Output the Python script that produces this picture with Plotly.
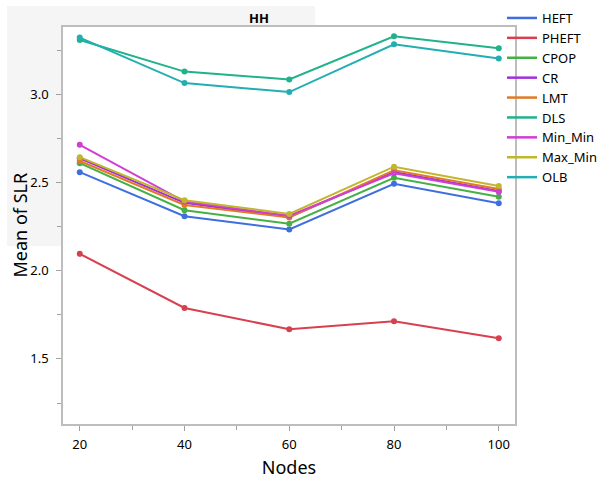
import plotly.graph_objects as go

nodes = [20, 40, 60, 80, 100]

series_names = ["HEFT", "PHEFT", "CPOP", "CR", "LMT", "DLS", "Min_Min", "Max_Min", "OLB"]

HEFT = [2.559, 2.309, 2.234, 2.493, 2.383]
PHEFT = [2.096, 1.789, 1.668, 1.713, 1.617]
CPOP = [2.610, 2.343, 2.267, 2.527, 2.419]
CR = [2.638, 2.385, 2.305, 2.560, 2.452]
LMT = [2.622, 2.373, 2.302, 2.570, 2.463]
DLS = [3.308, 3.129, 3.085, 3.329, 3.261]
Min_Min = [2.714, 2.392, 2.312, 2.553, 2.448]
Max_Min = [2.644, 2.400, 2.322, 2.590, 2.480]
OLB = [3.322, 3.064, 3.013, 3.284, 3.204]

values = [HEFT, PHEFT, CPOP, CR, LMT, DLS, Min_Min, Max_Min, OLB]

colors = ["#3F6FDF", "#D7404F", "#45B045", "#A12FE0", "#E07A26",
          "#20B28B", "#D03FD3", "#C2B62C", "#22AEB2"]

font_family = "Noto Sans, Open Sans, sans-serif"

fig = go.Figure()
for name, vals, col in zip(series_names, values, colors):
    fig.add_trace(go.Scatter(
        x=nodes, y=vals, mode="lines+markers", name=name,
        line=dict(color=col, width=2), marker=dict(color=col, size=6),
        showlegend=False))
for name, col in zip(series_names, colors):
    fig.add_trace(go.Scatter(
        x=[None], y=[None], mode="lines", name=name,
        line=dict(color=col, width=2.5), showlegend=True))

W, H = 608, 479
ml, mr, mt, mb = 63, 93, 27, 55
pw, ph = W - ml - mr, H - mt - mb

def px_x(p):
    return (p - ml) / pw

def px_y(p):
    return (H - mb - p) / ph

# light grey header panel (visible left of and above the plot area)
fig.add_shape(type="rect", xref="paper", yref="paper", layer="below",
              x0=px_x(7), x1=px_x(ml), y0=px_y(246), y1=px_y(6),
              fillcolor="#F5F5F5", line=dict(width=0))
fig.add_shape(type="rect", xref="paper", yref="paper", layer="below",
              x0=px_x(ml), x1=px_x(315), y0=px_y(mt), y1=px_y(6),
              fillcolor="#F5F5F5", line=dict(width=0))

fig.add_annotation(text="<b>HH</b>", xref="paper", yref="paper",
                   x=px_x(259), y=px_y(18), xanchor="center", yanchor="middle",
                   showarrow=False,
                   font=dict(size=13, color="#000000", family=font_family))

fig.add_annotation(text="Mean of SLR", xref="paper", yref="paper",
                   x=px_x(19), y=0.5, xanchor="center", yanchor="middle",
                   textangle=-90, showarrow=False,
                   font=dict(size=18, color="#000000", family=font_family))

fig.update_layout(
    width=W, height=H,
    margin=dict(l=ml, r=mr, t=mt, b=mb, autoexpand=False),
    paper_bgcolor="white", plot_bgcolor="white",
    font=dict(family=font_family, size=13, color="#000000"),
    legend=dict(x=px_x(502), y=px_y(3), xanchor="left", yanchor="top",
                font=dict(size=13), itemwidth=30, bgcolor="rgba(0,0,0,0)",
                tracegroupgap=0),
    xaxis=dict(range=[16.8, 103.1], tickvals=nodes, ticktext=[str(n) for n in nodes],
               ticks="outside", ticklen=5, tickcolor="#A0A0A0",
               minor=dict(tickvals=[30, 50, 70, 90], ticks="outside", ticklen=4, tickcolor="#A0A0A0"),
               showgrid=False, zeroline=False, showline=True, mirror=True,
               linecolor="#BDBDBD", linewidth=1.5, ticklabelstandoff=3,
               title=dict(text="Nodes", font=dict(size=18), standoff=9),
               automargin=False),
    yaxis=dict(range=[1.131, 3.382], tickvals=[1.5, 2.0, 2.5, 3.0],
               ticktext=["1.5", "2.0", "2.5", "3.0"],
               ticks="outside", ticklen=5, tickcolor="#A0A0A0",
               minor=dict(tickvals=[1.25, 1.75, 2.25, 2.75, 3.25], ticks="outside", ticklen=4, tickcolor="#A0A0A0"),
               showgrid=False, zeroline=False, showline=True, mirror=True,
               linecolor="#BDBDBD", linewidth=1.5, ticklabelstandoff=5,
               automargin=False),
)

fig.write_html("out.html")
